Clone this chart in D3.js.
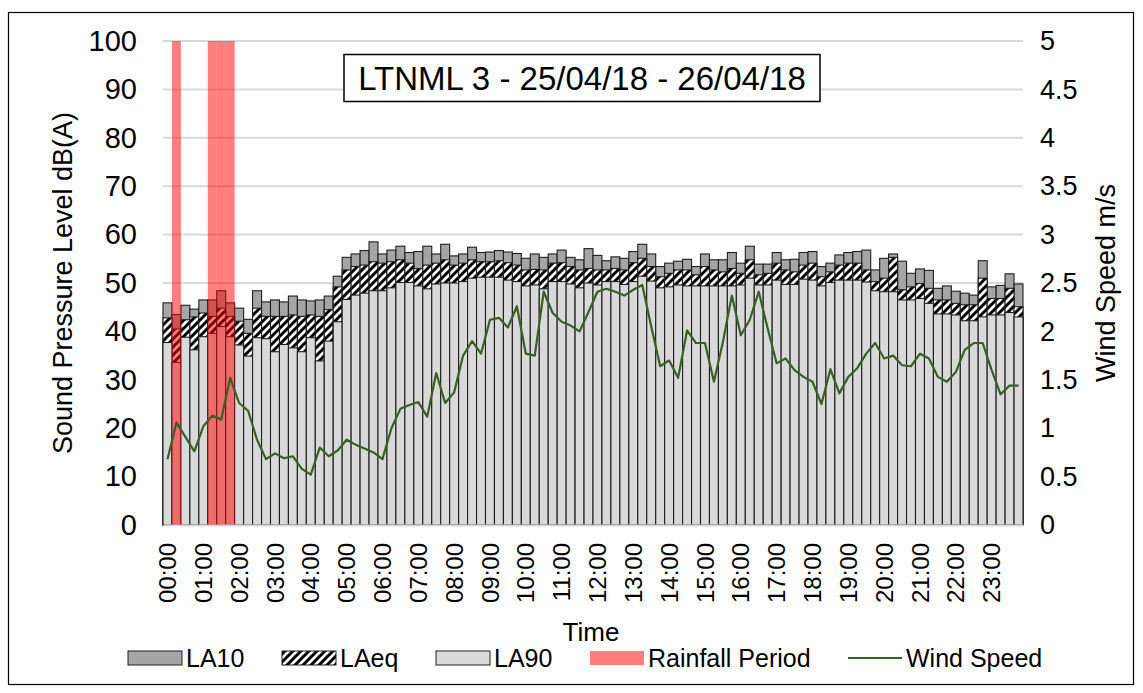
<!DOCTYPE html>
<html>
<head>
<meta charset="utf-8">
<script src="https://cdn.jsdelivr.net/npm/d3@7"></script>
<style>
  body { margin: 0; background: #fff; }
  text { font-family: "Liberation Sans", Arial, sans-serif; fill: #000; }
</style>
</head>
<body>
<script>
// 15 minute intervals, 25/04/18 00:00 to 23:45
const times = d3.range(96).map(i => d3.format('02')(Math.floor(i / 4)) + ':' + d3.format('02')((i % 4) * 15));
const hourLabels = times.filter((t, i) => i % 4 === 0);

const la10 = [45.9, 43.5, 45.4, 44.6, 46.5, 46.5, 48.4, 45.9, 44.8, 42.5, 48.4, 46.1,
    46.5, 46.1, 47.3, 46.5, 46.3, 46.5, 47.3, 51.4, 55.3, 56.0, 56.7, 58.5,
    56.0, 56.8, 57.6, 56.3, 56.5, 57.6, 56.0, 58.0, 55.6, 56.0, 57.4, 56.3,
    56.4, 56.7, 56.4, 56.1, 55.1, 56.0, 55.3, 56.0, 56.8, 55.3, 54.8, 57.1,
    55.7, 54.6, 55.4, 55.1, 56.5, 58.0, 56.0, 53.4, 54.1, 54.5, 54.9, 53.4,
    56.0, 54.8, 54.8, 56.3, 54.1, 57.6, 53.9, 53.9, 56.3, 54.8, 54.9, 56.3,
    56.5, 53.4, 54.1, 55.8, 56.3, 56.5, 56.8, 52.7, 55.1, 56.0, 54.5, 52.0,
    52.9, 52.6, 48.9, 49.4, 48.3, 47.9, 47.5, 54.6, 49.2, 49.5, 51.9, 49.8];

const laeq = [42.8, 40.5, 42.4, 43.0, 43.8, 43.1, 44.8, 43.1, 42.1, 39.6, 44.8, 43.1,
    43.1, 43.1, 43.4, 43.1, 43.4, 43.1, 44.5, 49.2, 52.7, 53.4, 53.7, 54.4,
    54.1, 54.4, 54.8, 54.1, 53.0, 53.7, 54.1, 54.8, 53.7, 54.1, 54.8, 54.4,
    54.4, 54.6, 54.2, 53.7, 52.7, 52.8, 52.7, 54.1, 54.2, 53.4, 52.7, 53.0,
    52.7, 52.7, 53.0, 52.7, 54.2, 55.1, 53.4, 51.3, 52.0, 52.7, 52.7, 51.7,
    53.4, 52.7, 52.3, 53.0, 52.0, 54.8, 51.7, 52.0, 54.1, 52.7, 52.3, 53.7,
    54.1, 51.3, 52.3, 53.7, 54.1, 54.1, 52.7, 50.3, 51.0, 55.3, 48.6, 49.2,
    49.9, 48.9, 46.5, 46.5, 45.8, 45.5, 45.5, 51.0, 46.8, 46.8, 48.9, 45.1];

const la90 = [37.7, 33.6, 38.8, 36.2, 38.9, 39.6, 41.0, 38.9, 37.2, 34.9, 38.7, 38.5,
    35.8, 37.3, 36.6, 35.8, 38.7, 33.9, 38.0, 42.0, 46.6, 47.5, 47.9, 48.4,
    48.4, 49.0, 50.1, 50.1, 49.4, 48.8, 49.8, 50.0, 50.0, 50.3, 51.0, 51.2,
    51.2, 51.2, 50.6, 50.3, 49.4, 49.6, 48.8, 50.3, 50.3, 49.8, 49.0, 50.0,
    49.6, 50.3, 50.3, 49.7, 50.3, 51.4, 50.4, 49.0, 49.2, 49.6, 49.4, 49.4,
    49.4, 49.4, 49.4, 49.4, 49.6, 51.0, 49.6, 49.6, 50.6, 49.7, 49.7, 50.8,
    50.6, 49.4, 50.1, 50.6, 50.6, 50.6, 50.2, 48.4, 48.2, 48.2, 46.5, 46.5,
    46.8, 45.8, 43.6, 43.6, 43.4, 42.2, 42.2, 43.0, 43.4, 43.4, 43.9, 43.0];

const windSpeed = [0.68, 1.06, 0.91, 0.76, 1.02, 1.13, 1.09, 1.52, 1.26, 1.18, 0.88, 0.68,
    0.74, 0.69, 0.71, 0.58, 0.52, 0.80, 0.71, 0.77, 0.88, 0.83, 0.79, 0.75,
    0.68, 1.00, 1.20, 1.24, 1.27, 1.12, 1.57, 1.26, 1.37, 1.75, 1.90, 1.77,
    2.12, 2.14, 2.04, 2.26, 1.77, 1.75, 2.41, 2.19, 2.10, 2.06, 2.00, 2.20,
    2.41, 2.44, 2.41, 2.37, 2.43, 2.48, 2.05, 1.64, 1.70, 1.52, 2.01, 1.88,
    1.88, 1.48, 1.89, 2.37, 1.96, 2.12, 2.41, 2.03, 1.67, 1.72, 1.60, 1.53,
    1.48, 1.25, 1.61, 1.36, 1.53, 1.62, 1.77, 1.88, 1.72, 1.75, 1.65, 1.64,
    1.77, 1.72, 1.53, 1.48, 1.58, 1.81, 1.88, 1.88, 1.60, 1.35, 1.44, 1.44];

// intervals flagged as rain (drawn full height)
const rainfallPeriods = ['00:15', '01:15', '01:30', '01:45'];
const rainfallLevel = 100;

const legendItems = ['LA10', 'LAeq', 'LA90', 'Rainfall Period', 'Wind Speed'];

const W = 1143, H = 693;
const margin = { left: 163, right: 1023, top: 41, bottom: 525 };

const col = {
    la10: '#a5a5a5',
    la90: '#d9d9d9',
    edge: '#1f1f1f',
    grid: '#d9d9d9',
    rain: '#ff0000',
    wind: '#3b5e27'
};

const svg = d3.select('body').append('svg')
    .attr('width', W)
    .attr('height', H);

const defs = svg.append('defs');
const pat = defs.append('pattern')
    .attr('id', 'hatch')
    .attr('patternUnits', 'userSpaceOnUse')
    .attr('width', 8)
    .attr('height', 8);
pat.append('rect').attr('width', 8).attr('height', 8).attr('fill', '#fff');
pat.append('path')
    .attr('d', 'M-2,2 L2,-2 M0,8 L8,0 M6,10 L10,6')
    .attr('stroke', '#000')
    .attr('stroke-width', 3);

// chart border
svg.append('rect')
    .attr('x', 8.5).attr('y', 12.5)
    .attr('width', 1125).attr('height', 672)
    .attr('fill', '#fff')
    .attr('stroke', '#000')
    .attr('stroke-width', 1.2);

const x = d3.scaleBand()
    .domain(times)
    .range([margin.left, margin.right])
    .padding(0);

const y = d3.scaleLinear()
    .domain([0, 100])
    .range([margin.bottom, margin.top]);

const yWind = d3.scaleLinear()
    .domain([0, 5])
    .range([margin.bottom, margin.top]);

// gridlines
svg.append('g')
    .selectAll('line')
    .data(y.ticks(10))
    .join('line')
    .attr('x1', margin.left)
    .attr('x2', margin.right)
    .attr('y1', d => y(d))
    .attr('y2', d => y(d))
    .attr('stroke', col.grid)
    .attr('stroke-width', 2);

// title box
const title = svg.append('g');
title.append('rect')
    .attr('x', 344).attr('y', 54.5)
    .attr('width', 476).attr('height', 47)
    .attr('fill', '#fff')
    .attr('stroke', '#000')
    .attr('stroke-width', 1.5);
title.append('text')
    .attr('x', 582).attr('y', 90)
    .attr('text-anchor', 'middle')
    .attr('font-size', 33)
    .text('LTNML 3 - 25/04/18 - 26/04/18');

// overlapped bars: LA10 behind, LAeq hatched, LA90 in front
const bars = svg.append('g')
    .attr('stroke', col.edge)
    .attr('stroke-width', 1.1);

const drawBars = (values, fill) => {
    bars.append('g')
        .selectAll('rect')
        .data(values)
        .join('rect')
        .attr('x', (d, i) => x(times[i]))
        .attr('width', x.bandwidth())
        .attr('y', d => y(d))
        .attr('height', d => y(0) - y(d))
        .attr('fill', fill);
};
drawBars(la10, col.la10);
drawBars(laeq, 'url(#hatch)');
drawBars(la90, col.la90);

// rainfall overlay
svg.append('g')
    .selectAll('rect')
    .data(rainfallPeriods)
    .join('rect')
    .attr('x', d => x(d))
    .attr('width', x.bandwidth())
    .attr('y', y(rainfallLevel))
    .attr('height', y(0) - y(rainfallLevel))
    .attr('fill', col.rain)
    .attr('fill-opacity', 0.5);

// wind speed
const line = d3.line()
    .x((d, i) => x(times[i]) + x.bandwidth() / 2)
    .y(d => yWind(d));

svg.append('path')
    .datum(windSpeed)
    .attr('d', line)
    .attr('fill', 'none')
    .attr('stroke', col.wind)
    .attr('stroke-width', 2.2)
    .attr('stroke-linejoin', 'round');

// axes
const xAxis = svg.append('g')
    .attr('transform', `translate(0,${margin.bottom})`)
    .call(d3.axisBottom(x).tickValues(hourLabels).tickSize(0));
xAxis.select('.domain')
    .attr('stroke', col.grid)
    .attr('stroke-width', 2);
xAxis.selectAll('text')
    .attr('transform', 'rotate(-90)')
    .attr('text-anchor', 'end')
    .attr('x', -18)
    .attr('y', 0)
    .attr('dy', '0.36em')
    .attr('font-size', 24)
    .attr('font-family', '"Liberation Sans", Arial, sans-serif');

const yAxis = svg.append('g')
    .attr('transform', `translate(${margin.left},0)`)
    .call(d3.axisLeft(y).ticks(10).tickSize(0).tickPadding(26));
yAxis.select('.domain').remove();
yAxis.selectAll('text')
    .attr('font-size', 29)
    .attr('font-family', '"Liberation Sans", Arial, sans-serif');

const yAxisR = svg.append('g')
    .attr('transform', `translate(${margin.right},0)`)
    .call(d3.axisRight(yWind).ticks(10).tickSize(0).tickPadding(17).tickFormat(d3.format('~g')));
yAxisR.select('.domain').remove();
yAxisR.selectAll('text')
    .attr('font-size', 27)
    .attr('font-family', '"Liberation Sans", Arial, sans-serif');

// axis titles
svg.append('text')
    .attr('transform', 'translate(72,283) rotate(-90)')
    .attr('text-anchor', 'middle')
    .attr('font-size', 27)
    .text('Sound Pressure Level dB(A)');

svg.append('text')
    .attr('transform', 'translate(1115,283) rotate(-90)')
    .attr('text-anchor', 'middle')
    .attr('font-size', 27)
    .text('Wind Speed m/s');

svg.append('text')
    .attr('x', 591).attr('y', 641)
    .attr('text-anchor', 'middle')
    .attr('font-size', 26)
    .text('Time');

// legend
const legendX = [128, 282, 436, 590, 848];
const legend = svg.append('g');
legendItems.forEach((name, i) => {
    const lx = legendX[i], ly = 658;
    if (name === 'Wind Speed') {
        legend.append('line')
            .attr('x1', lx).attr('x2', lx + 54)
            .attr('y1', ly).attr('y2', ly)
            .attr('stroke', col.wind)
            .attr('stroke-width', 2);
    } else {
        const fills = { 'LA10': col.la10, 'LAeq': 'url(#hatch)', 'LA90': col.la90, 'Rainfall Period': col.rain };
        legend.append('rect')
            .attr('x', lx).attr('y', ly - 7)
            .attr('width', 54).attr('height', 14)
            .attr('fill', fills[name])
            .attr('fill-opacity', name === 'Rainfall Period' ? 0.5 : 1)
            .attr('stroke', name === 'Rainfall Period' ? 'none' : col.edge)
            .attr('stroke-width', 1);
    }
    legend.append('text')
        .attr('x', lx + 58).attr('y', ly + 9)
        .attr('font-size', 25)
        .text(name);
});
</script>
</body>
</html>
